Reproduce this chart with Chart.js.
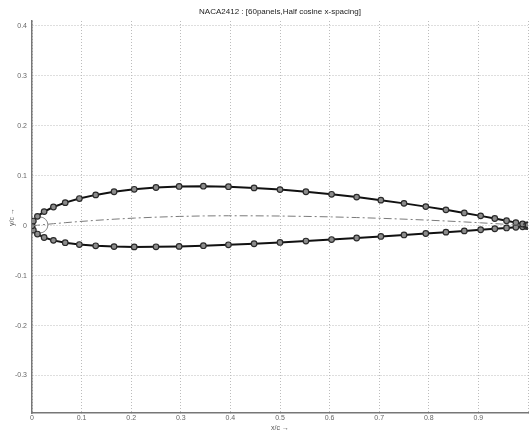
<!DOCTYPE html>
<html>
<head>
<meta charset="utf-8">
<script src="https://cdn.jsdelivr.net/npm/chart.js@4/dist/chart.umd.min.js"></script>
<style>
  html, body { margin: 0; padding: 0; background: #fff; }
  #wrap { width: 529px; height: 433px; }
</style>
</head>
<body>
<div id="wrap"><canvas id="foil"></canvas></div>
<script>
// NACA2412, 60 panels (31 stations per surface), half cosine spacing
var xc = [0, 0.002739, 0.010926, 0.024472, 0.043227, 0.066987, 0.095492, 0.128428,
    0.165435, 0.206107, 0.25, 0.296632, 0.345492, 0.396044, 0.447736, 0.5,
    0.552264, 0.603956, 0.654508, 0.703368, 0.75, 0.793893, 0.834565, 0.871572,
    0.904508, 0.933013, 0.956773, 0.975528, 0.989074, 0.997261, 1];
var yUpper = [0, 0.009387, 0.018847, 0.028266, 0.037478, 0.046283, 0.054458, 0.061776,
    0.068024, 0.073016, 0.076601, 0.078678, 0.079204, 0.078173, 0.075796, 0.072384,
    0.068070, 0.062997, 0.057320, 0.051199, 0.044797, 0.038285, 0.031832, 0.025605,
    0.019775, 0.014503, 0.009946, 0.006240, 0.003505, 0.001825, 0.00126];
var yLower = [0, -0.008841, -0.016691, -0.023522, -0.029300, -0.034007, -0.037640, -0.040214,
    -0.041780, -0.042414, -0.042225, -0.041350, -0.039946, -0.038177, -0.036050, -0.033496,
    -0.030646, -0.027619, -0.024516, -0.021425, -0.018409, -0.015525, -0.012814, -0.010313,
    -0.008055, -0.006069, -0.004390, -0.003044, -0.002061, -0.001461, -0.00126];
var yCamber = [0, 0.000273, 0.001078, 0.002372, 0.004089, 0.006138, 0.008409, 0.010781,
    0.013122, 0.015301, 0.017188, 0.018664, 0.019629, 0.019998, 0.019873, 0.019444,
    0.018712, 0.017689, 0.016402, 0.014887, 0.013194, 0.011380, 0.009509, 0.007646,
    0.005860, 0.004217, 0.002778, 0.001598, 0.000722, 0.000182, 0];
// leading edge radius circle centre
var leCentre = [0.0159, 0.0016];

var xTicks = [0, 0.1, 0.2, 0.3, 0.4, 0.5, 0.6, 0.7, 0.8, 0.9, 1];
var yTicks = [-0.3, -0.2, -0.1, 0, 0.1, 0.2, 0.3, 0.4];

var chartTitle = 'NACA2412 : [60panels,Half cosine x-spacing]';

function pts(ys) {
    return xc.map(function (x, i) { return { x: x, y: ys[i] }; });
}

var FONT = "'Liberation Sans', Arial, sans-serif";

// title centred over the plot box, like the matlab axes title
var axesTitle = {
    id: 'axesTitle',
    afterDraw: function (chart) {
        var ctx = chart.ctx, area = chart.chartArea;
        ctx.save();
        ctx.font = '8px ' + FONT;
        ctx.fillStyle = '#222';
        ctx.textAlign = 'center';
        ctx.textBaseline = 'middle';
        ctx.fillText(chartTitle, (area.left + area.right) / 2, 12);
        ctx.restore();
    }
};

var surfStyle = {
    showLine: true,
    borderColor: '#111',
    borderWidth: 2,
    pointRadius: 2.8,
    pointBorderWidth: 1.2,
    pointBorderColor: '#2a2a2a',
    pointBackgroundColor: '#8c8c8c',
    tension: 0
};

new Chart(document.getElementById('foil').getContext('2d'), {
    type: 'scatter',
    data: {
        datasets: [
            {
                label: 'camber',
                data: pts(yCamber),
                showLine: true,
                borderColor: '#7a7a7a',
                borderWidth: 1,
                borderDash: [8, 3, 2, 3],
                pointRadius: 0
            },
            Object.assign({ label: 'upper', data: pts(yUpper) }, surfStyle),
            Object.assign({ label: 'lower', data: pts(yLower) }, surfStyle),
            {
                label: 'LE radius',
                data: [{ x: leCentre[0], y: leCentre[1] }],
                pointRadius: 8,
                pointBorderWidth: 1,
                pointBorderColor: '#8a8a8a',
                pointBackgroundColor: 'rgba(0,0,0,0)'
            }
        ]
    },
    plugins: [axesTitle],
    options: {
        responsive: true,
        maintainAspectRatio: false,
        animation: false,
        layout: { autoPadding: false, padding: { left: 0, right: 1, top: 21, bottom: 0 } },
        plugins: {
            legend: { display: false },
            tooltip: { enabled: false },
            title: { display: false }
        },
        scales: {
            x: {
                type: 'linear',
                min: 0,
                max: 1,
                afterFit: function (s) { s.height = 20; },
                afterBuildTicks: function (s) {
                    s.ticks = xTicks.map(function (v) { return { value: v }; });
                },
                ticks: {
                    color: '#666',
                    font: { family: FONT, size: 7 },
                    padding: 1,
                    maxRotation: 0,
                    autoSkip: false,
                    callback: function (v) { return v >= 0.999 ? '' : String(Math.round(v * 10) / 10); }
                },
                grid: {
                    color: '#bcbcbc',
                    lineWidth: 1,
                    tickLength: 0
                },
                border: { display: true, color: '#777', width: 1.5, dash: [1, 2] },
                title: {
                    display: true,
                    text: 'x/c \u2192',
                    color: '#555',
                    font: { family: FONT, size: 7 },
                    padding: { top: 0, bottom: 1 }
                }
            },
            y: {
                type: 'linear',
                min: -0.375,
                max: 0.41,
                afterFit: function (s) { s.width = 32; },
                afterBuildTicks: function (s) {
                    s.ticks = yTicks.map(function (v) { return { value: v }; });
                },
                ticks: {
                    color: '#666',
                    font: { family: FONT, size: 7 },
                    padding: 5,
                    autoSkip: false,
                    callback: function (v) { return String(Math.round(v * 10) / 10); }
                },
                grid: {
                    color: '#bcbcbc',
                    lineWidth: 1,
                    tickLength: 0
                },
                border: { display: true, color: '#777', width: 1.5, dash: [1, 2] },
                title: {
                    display: true,
                    text: 'y/c \u2192',
                    color: '#555',
                    font: { family: FONT, size: 7 },
                    padding: { top: 8, bottom: 0 }
                }
            }
        }
    }
});
</script>
</body>
</html>
